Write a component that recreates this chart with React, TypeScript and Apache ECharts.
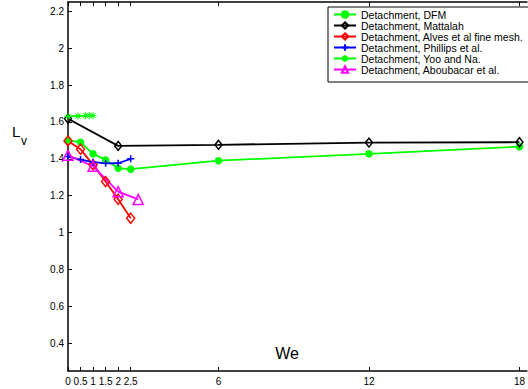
import React, { useEffect, useRef } from "react";
import * as echarts from "echarts";

const FONT = "'Liberation Sans', Arial, Helvetica, sans-serif";

const xTicks = [0, 0.5, 1, 1.5, 2, 2.5, 6, 12, 18];
const yTicks = [0.4, 0.6, 0.8, 1, 1.2, 1.4, 1.6, 1.8, 2, 2.2];

const dfmX = [0, 0.5, 1, 1.5, 2, 2.5, 6, 12, 18];
const dfmY = [1.5, 1.49, 1.427, 1.394, 1.349, 1.344, 1.39, 1.427, 1.466];

const mattalahX = [0, 2, 6, 12, 18];
const mattalahY = [1.617, 1.47, 1.476, 1.488, 1.49];

const alvesX = [0, 0.5, 1, 1.5, 2, 2.5];
const alvesY = [1.497, 1.452, 1.367, 1.277, 1.181, 1.078];

const phillipsX = [0, 0.5, 1, 1.5, 2, 2.5];
const phillipsY = [1.412, 1.396, 1.382, 1.376, 1.376, 1.4];

const yooX = [0, 0.4, 0.7, 0.85, 1.0];
const yooY = [1.63, 1.632, 1.634, 1.634, 1.634];

const aboubacarX = [0, 1, 2, 2.8];
const aboubacarY = [1.42, 1.36, 1.222, 1.18];

const names = [
  "Detachment, DFM",
  "Detachment, Mattalah",
  "Detachment, Alves et al fine mesh.",
  "Detachment, Phillips et al.",
  "Detachment, Yoo and Na.",
  "Detachment, Aboubacar et al.",
];

const pairs = (xs: number[], ys: number[]) => xs.map((x, i) => [x, ys[i]]);

const PLUS = "path://M5,0L5,10M0,5L10,5";
const STAR = "path://M5,0L5,10M0,5L10,5M1.5,1.5L8.5,8.5M8.5,1.5L1.5,8.5";

export default function App() {
  const ref = useRef<HTMLDivElement>(null);
  useEffect(() => {
    if (!ref.current) return;
    const chart = echarts.init(ref.current, undefined, { renderer: "svg" });
    const mk = (
      name: string,
      data: number[][],
      color: string,
      symbol: string,
      size: number | number[],
      filled: boolean,
      lw: number,
      bw = 1.5
    ) => ({
      name,
      type: "line",
      data,
      symbol,
      symbolSize: size,
      showAllSymbol: true,
      lineStyle: { color, width: lw },
      itemStyle: {
        color: filled ? color : "rgba(255,255,255,0)",
        borderColor: color,
        borderWidth: bw,
      },
      emphasis: { disabled: true },
    });
    const tickStyle = { color: "#000", width: 1 };
    chart.setOption({
      animation: false,
      backgroundColor: "#fff",
      textStyle: { fontFamily: FONT },
      grid: { left: 68, top: 2, width: 463.6, height: 369, containLabel: false },
      xAxis: [
        {
          type: "value",
          min: 0,
          max: 18.3,
          axisLine: { show: true, lineStyle: { color: "#000", width: 1.5 } },
          axisTick: { show: true, inside: true, length: 4, customValues: xTicks, lineStyle: tickStyle },
          axisLabel: {
            show: true,
            customValues: xTicks,
            color: "#000",
            fontSize: 10,
            fontFamily: FONT,
            margin: 5,
            hideOverlap: false,
          },
          splitLine: { show: false },
        },
        {
          type: "value",
          position: "top",
          min: 0,
          max: 18.3,
          axisLine: { show: true, lineStyle: { color: "#000", width: 1.5 } },
          axisTick: { show: true, inside: true, length: 4, customValues: xTicks, lineStyle: tickStyle },
          axisLabel: { show: false },
          splitLine: { show: false },
        },
      ],
      yAxis: {
        type: "value",
        min: 0.25,
        max: 2.25,
        axisLine: { show: true, lineStyle: { color: "#000", width: 1.5 } },
        axisTick: { show: true, inside: true, length: 4, customValues: yTicks, lineStyle: tickStyle },
        axisLabel: {
          show: true,
          customValues: yTicks,
          color: "#000",
          fontSize: 10,
          fontFamily: FONT,
          margin: 4,
        },
        splitLine: { show: false },
      },
      legend: {
        orient: "vertical",
        left: 328,
        top: 7,
        backgroundColor: "#fff",
        borderColor: "#000",
        borderWidth: 1,
        borderRadius: 0,
        padding: [2, 6, 7, 5],
        itemWidth: 22,
        itemHeight: 8,
        itemGap: 0,
        textStyle: { fontSize: 10.5, fontFamily: FONT, color: "#000", lineHeight: 10 },
        data: names,
        selectedMode: false,
      },
      series: [
        mk(names[0], pairs(dfmX, dfmY), "#00ff00", "circle", 6, true, 1.8),
        mk(names[1], pairs(mattalahX, mattalahY), "#000000", "diamond", [7, 9], false, 1.8),
        mk(names[2], pairs(alvesX, alvesY), "#ff0000", "diamond", [8, 10], false, 1.8),
        mk(names[3], pairs(phillipsX, phillipsY), "#0000ff", PLUS, 7, true, 1.8),
        mk(names[4], pairs(yooX, yooY), "#00ff00", STAR, 7, true, 1.8, 1),
        mk(names[5], pairs(aboubacarX, aboubacarY), "#ff00ff", "triangle", 10, false, 1.8),
      ],
      graphic: [
        {
          type: "text",
          left: 12,
          top: 124,
          style: { text: "L", fontSize: 15, fontFamily: FONT, fill: "#000" },
        },
        {
          type: "text",
          left: 21,
          top: 135,
          style: { text: "v", fontSize: 12, fontFamily: FONT, fill: "#000" },
        },
        {
          type: "text",
          x: 287,
          y: 353,
          style: {
            text: "We",
            fontSize: 16,
            fontFamily: FONT,
            fill: "#000",
            align: "center",
            verticalAlign: "middle",
          },
        },
      ],
    });
    return () => chart.dispose();
  }, []);
  return (
    <div
      ref={ref}
      style={{ position: "fixed", left: 0, top: 0, width: 528, height: 389, overflow: "hidden" }}
    />
  );
}
